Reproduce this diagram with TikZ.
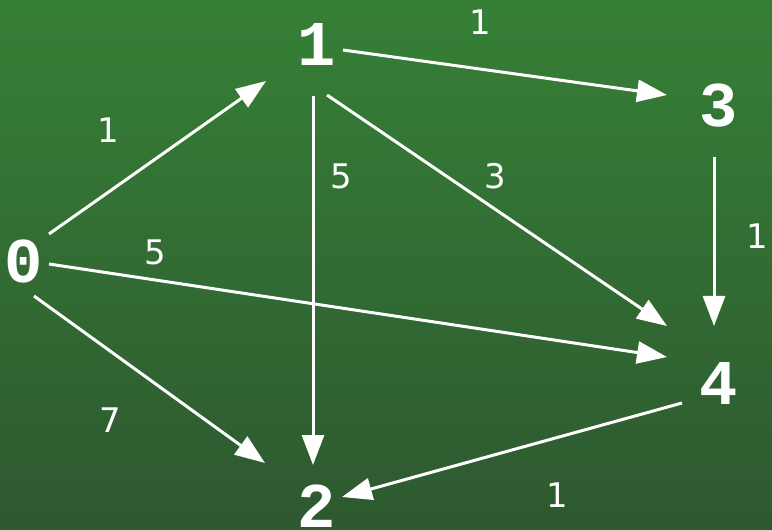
\documentclass[tikz,border=0pt]{standalone}
\usepackage{fontspec}
\setmainfont{DejaVu Sans}
\newfontfamily\nodefont{Liberation Mono}
\usetikzlibrary{arrows.meta,calc}
\definecolor{bgtop}{RGB}{54,128,54}
\definecolor{bgbot}{RGB}{46,88,48}
\tikzset{
  vertex/.style={text=white,inner sep=0pt,font=\nodefont\bfseries\fontsize{64}{64}\selectfont},
  wlabel/.style={text=white,inner sep=0pt,font=\fontsize{34}{34}\selectfont},
  edge/.style={draw=white,line width=3bp,-{Triangle[length=30bp,width=22bp]}}
}
\begin{document}
\begin{tikzpicture}[x=1bp,y=-1bp]
\shade[top color=bgtop,bottom color=bgbot] (0,0) rectangle (772,530);
\useasboundingbox (0,0) rectangle (772,530);
\node[vertex] (n0) at (24,261) {0};
\node[vertex] (n1) at (317,45) {1};
\node[vertex] (n2) at (317,506) {2};
\node[vertex] (n3) at (719,106) {3};
\node[vertex] (n4) at (719,383) {4};
% edges
\draw[edge] ($(n0)+(25,-27)$) -- ($(n1)+(-51,36)$);
\draw[edge] ($(n1)+(26,5)$) -- ($(n3)+(-52,-11)$);
\draw[edge] ($(n1)+(-4,51)$) -- ($(n2)+(-4,-41)$);
\draw[edge] ($(n1)+(10,50)$) -- ($(n4)+(-52,-57)$);
\draw[edge] ($(n3)+(-5,51)$) -- ($(n4)+(-5,-57)$);
\draw[edge] ($(n0)+(25,3)$) -- ($(n4)+(-52,-26)$);
\draw[edge] ($(n0)+(10,35)$) -- ($(n2)+(-52,-43)$);
\draw[edge] ($(n4)+(-37,20)$) -- ($(n2)+(25,-9)$);
% weights
\node[wlabel] (w01) at (108,130) {1};
\node[wlabel] (w13) at (480,22) {1};
\node[wlabel] (w12) at (341,176) {5};
\node[wlabel] (w14) at (495,176) {3};
\node[wlabel] (w34) at (757,236) {1};
\node[wlabel] (w04) at (155,252) {5};
\node[wlabel] (w02) at (110,420) {7};
\node[wlabel] (w42) at (557,495) {1};
\end{tikzpicture}
\end{document}
